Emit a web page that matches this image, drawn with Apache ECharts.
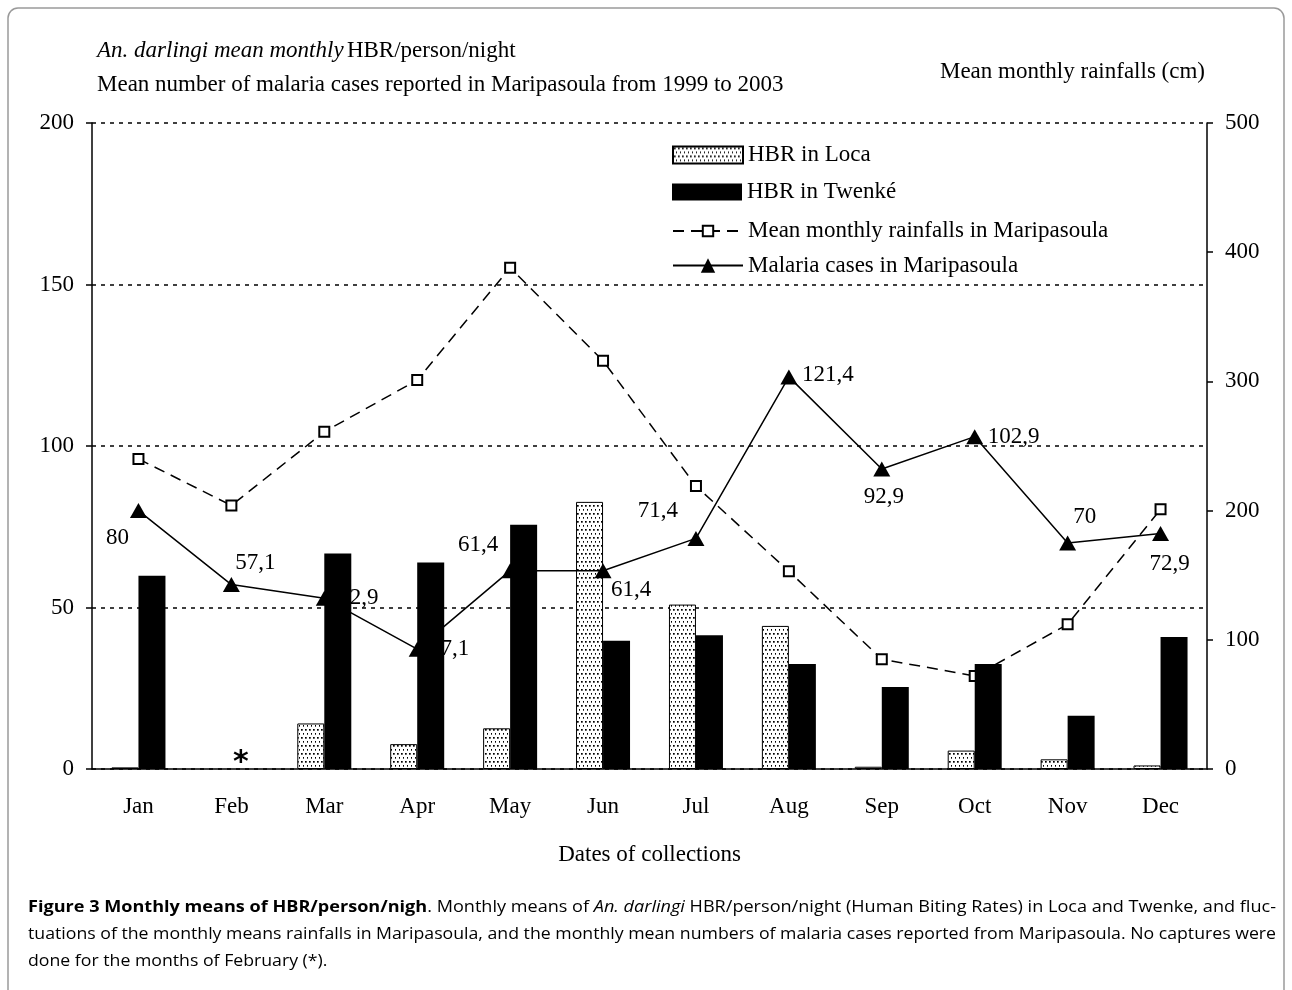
<!DOCTYPE html>
<html>
<head>
<meta charset="utf-8">
<script src="https://cdn.jsdelivr.net/npm/echarts@6/dist/echarts.min.js"></script>
<style>
  html, body { margin: 0; padding: 0; background: #fff; }
  #chart { width: 1292px; height: 990px; }
</style>
</head>
<body>
<div id="chart"></div>
<script>
// Monthly values
const months = ['Jan', 'Feb', 'Mar', 'Apr', 'May', 'Jun', 'Jul', 'Aug', 'Sep', 'Oct', 'Nov', 'Dec'];
const hbrLoca = [0.5, null, 14.1, 7.7, 12.6, 82.7, 50.9, 44.3, 0.7, 5.7, 3.0, 1.1];
const hbrTwenke = [59.8, null, 66.7, 63.9, 75.6, 39.7, 41.4, 32.5, 25.4, 32.5, 16.5, 40.9];
const rainfall = [240, 204, 261, 301, 388, 316, 219, 153, 85, 72, 112, 201];
const malaria = [80, 57.1, 52.9, 37.1, 61.4, 61.4, 71.4, 121.4, 92.9, 102.9, 70, 72.9];

// Axis ranges (left: HBR / malaria cases, right: rainfall)
const leftTicks = [0, 50, 100, 150, 200];
const rightTicks = [0, 100, 200, 300, 400, 500];

// Where each malaria value label sits relative to its marker
const malariaLabelOffsets = [
  [-21, 27], [24, -22], [34, 0], [32, 0], [-32, -26], [28, 19],
  [-38, -27], [39, -2], [2, 28], [39, 0], [17, -26], [9, 30]
];

const serif = '"Liberation Serif", "Times New Roman", serif';
const sans = '"Open Sans", "Noto Sans", sans-serif';
const fs = 23;

// Dotted fill for the Loca bars
function dotPattern() {
  const c = document.createElement('canvas');
  c.width = 4; c.height = 8;
  const g = c.getContext('2d');
  g.fillStyle = '#fff';
  g.fillRect(0, 0, 4, 8);
  g.fillStyle = '#000';
  g.fillRect(1, 1, 1.7, 1.7);
  g.fillRect(3, 5, 1.7, 1.7);
  return c;
}
const locaFill = { image: dotPattern(), repeat: 'repeat' };

function fmtComma(v) {
  return Number.isInteger(v) ? String(v) : v.toFixed(1).replace('.', ',');
}

// Caption lines, fitted to the block width
const capSize = 16;
const capLines = [
  [['b', 'Figure 3 Monthly means of HBR/person/nigh'], ['r', '. Monthly means of '], ['i', 'An. darlingi'],
   ['r', ' HBR/person/night (Human Biting Rates) in Loca and Twenke, and fluc-']],
  [['r', 'tuations of the monthly means rainfalls in Maripasoula, and the monthly mean numbers of malaria cases reported from Maripasoula. No captures were']],
  [['r', 'done for the months of February (*).']]
];
const capStyles = {
  b: { fontWeight: 'bold', fontStyle: 'normal', fill: '#111' },
  r: { fontWeight: 'normal', fontStyle: 'normal', fill: '#333' },
  i: { fontWeight: 'normal', fontStyle: 'italic', fill: '#333' }
};
const measureCtx = document.createElement('canvas').getContext('2d');
function lineWidth(parts) {
  let w = 0;
  parts.forEach(([k, t]) => {
    const s = capStyles[k];
    measureCtx.font = `${s.fontStyle} ${s.fontWeight} ${capSize}px ${sans}`;
    w += measureCtx.measureText(t).width;
  });
  return w;
}
const capLeft = 28, capWidth = 1248, capTop = 907, capStep = 27;
const scale1 = capWidth / lineWidth(capLines[0]);
const scale2 = capWidth / lineWidth(capLines[1]);
const capScales = [scale1, scale2, scale2];
const capRich = {};
Object.keys(capStyles).forEach(k => {
  capRich[k] = {
    fontFamily: sans, fontSize: capSize, fontWeight: capStyles[k].fontWeight,
    fontStyle: capStyles[k].fontStyle, color: capStyles[k].fill
  };
});
const captionGraphics = capLines.map((parts, i) => ({
  type: 'text',
  x: capLeft,
  y: capTop + i * capStep,
  scaleX: capScales[i],
  style: {
    text: parts.map(([k, t]) => `{${k}|${t}}`).join(''),
    rich: capRich,
    verticalAlign: 'middle',
    align: 'left'
  }
}));

const chart = echarts.init(document.getElementById('chart'), null, { renderer: 'canvas' });

const legendBase = {
  orient: 'vertical',
  left: 672,
  padding: 0,
  itemWidth: 70,
  itemGap: 0,
  selectedMode: false,
  textStyle: { fontFamily: serif, fontSize: fs, color: '#000' }
};

const option = {
  animation: false,
  backgroundColor: '#fff',
  grid: { left: 92, right: 85, top: 123, bottom: 221 },
  legend: [
    Object.assign({}, legendBase, { top: 152 - 8.5, itemHeight: 17, icon: 'rect', data: ['HBR in Loca'] }),
    Object.assign({}, legendBase, { top: 189 - 8.5, itemHeight: 17, icon: 'rect', data: ['HBR in Twenké'] }),
    Object.assign({}, legendBase, { top: 226 - 6.5, itemHeight: 13, data: ['Mean monthly rainfalls in Maripasoula'] }),
    Object.assign({}, legendBase, { top: 263 - 9, itemHeight: 18, data: ['Malaria cases in Maripasoula'] })
  ],
  xAxis: {
    type: 'category',
    data: months,
    axisLine: { lineStyle: { color: '#000', width: 1.5 } },
    axisTick: { show: false },
    axisLabel: { color: '#000', fontFamily: serif, fontSize: fs, margin: 26 },
    name: 'Dates of collections',
    nameLocation: 'middle',
    nameGap: 74,
    nameTextStyle: { color: '#000', fontFamily: serif, fontSize: fs }
  },
  yAxis: [
    {
      type: 'value',
      min: leftTicks[0],
      max: leftTicks[leftTicks.length - 1],
      interval: leftTicks[1] - leftTicks[0],
      axisLine: { show: true, lineStyle: { color: '#000', width: 1.5 } },
      axisTick: { show: true, length: 6, lineStyle: { color: '#000', width: 1.5 } },
      axisLabel: { color: '#000', fontFamily: serif, fontSize: fs, margin: 18 },
      splitLine: { show: true, lineStyle: { color: '#000', width: 1.5, type: [4, 5] } }
    },
    {
      type: 'value',
      position: 'right',
      min: rightTicks[0],
      max: rightTicks[rightTicks.length - 1],
      interval: rightTicks[1] - rightTicks[0],
      axisLine: { show: true, lineStyle: { color: '#000', width: 1.5 } },
      axisTick: { show: true, length: 6, lineStyle: { color: '#000', width: 1.5 } },
      axisLabel: { color: '#000', fontFamily: serif, fontSize: fs, margin: 18 },
      splitLine: { show: false }
    }
  ],
  series: [
    {
      name: 'HBR in Loca',
      type: 'bar',
      z: 1,
      barWidth: 27,
      barGap: '0%',
      data: hbrLoca,
      itemStyle: { color: locaFill, borderColor: '#000', borderWidth: 1 }
    },
    {
      name: 'HBR in Twenké',
      type: 'bar',
      z: 4,
      barWidth: 27,
      barGap: '0%',
      data: hbrTwenke,
      itemStyle: { color: '#000' },
      markPoint: {
        symbol: 'rect',
        symbolSize: 1,
        itemStyle: { color: 'transparent' },
        label: {
          show: true, formatter: '*', position: 'inside', offset: [-4, -6],
          fontFamily: '"DejaVu Sans", sans-serif', fontWeight: 'bold', fontSize: 30, color: '#000'
        },
        data: [{ coord: [1, 0] }]
      }
    },
    {
      name: 'Mean monthly rainfalls in Maripasoula',
      type: 'line',
      z: 2,
      yAxisIndex: 1,
      data: rainfall,
      symbol: 'emptyRect',
      symbolSize: 10,
      lineStyle: { color: '#000', width: 1.5, type: [11, 7] },
      itemStyle: { color: '#000', borderWidth: 1.5 }
    },
    {
      name: 'Malaria cases in Maripasoula',
      type: 'line',
      z: 2,
      data: malaria.map((v, i) => ({ value: v, label: { offset: malariaLabelOffsets[i] } })),
      symbol: 'triangle',
      symbolSize: [17, 15],
      lineStyle: { color: '#000', width: 1.5 },
      itemStyle: { color: '#000' },
      label: {
        show: true,
        position: 'inside',
        align: 'center',
        verticalAlign: 'middle',
        fontFamily: serif,
        fontSize: fs,
        color: '#000',
        formatter: p => fmtComma(p.value)
      }
    }
  ],
  graphic: [
    {
      type: 'rect',
      shape: { x: 8, y: 8, width: 1276, height: 1010, r: 10 },
      style: { fill: 'none', stroke: '#9a9a9a', lineWidth: 1.5 },
      silent: true
    },
    {
      type: 'text',
      x: 97, y: 51,
      style: {
        text: '{i|An. darlingi mean monthly} {n|HBR/person/night}',
        rich: {
          i: { fontFamily: serif, fontSize: fs, fontStyle: 'italic', color: '#000' },
          n: { fontFamily: serif, fontSize: fs, color: '#000' }
        },
        verticalAlign: 'middle'
      }
    },
    {
      type: 'text',
      x: 97, y: 85,
      style: {
        text: 'Mean number of malaria cases reported in Maripasoula from 1999 to 2003',
        font: `${fs}px ${serif}`, fill: '#000', verticalAlign: 'middle'
      }
    },
    {
      type: 'text',
      x: 1205, y: 72,
      style: {
        text: 'Mean monthly rainfalls (cm)',
        font: `${fs}px ${serif}`, fill: '#000', verticalAlign: 'middle', align: 'right'
      }
    }
  ].concat(captionGraphics)
};

chart.setOption(option);
</script>
</body>
</html>
